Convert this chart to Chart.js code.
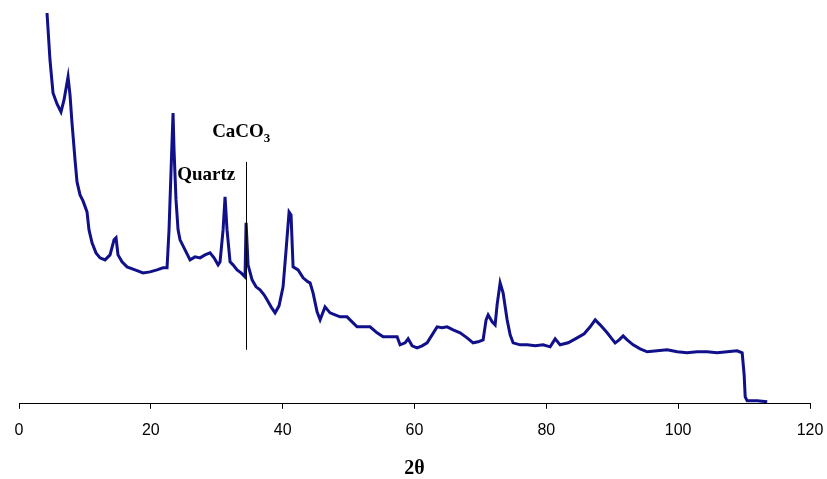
<!DOCTYPE html>
<html>
<head>
<meta charset="utf-8">
<script src="https://cdn.jsdelivr.net/npm/chart.js@4.4.0/dist/chart.umd.min.js"></script>
<style>
  html, body { margin: 0; padding: 0; background: #fff; }
  #wrap { width: 827px; height: 479px; position: relative; }
</style>
</head>
<body>
<div id="wrap"><canvas id="xrd"></canvas></div>
<script>
// 2θ positions (deg) and intensity (arbitrary units)
const dosTheta = [
  4.25, 4.70, 5.16, 5.77, 6.37, 6.83, 7.44, 7.74, 8.04, 8.50, 8.80, 9.26, 9.71, 10.32, 10.62,
  11.08, 11.68, 12.29, 13.05, 13.81, 14.42, 14.72, 15.02, 15.63, 16.39, 17.60, 18.82, 19.88,
  20.94, 21.85, 22.46, 22.76, 23.07, 23.37, 23.52, 23.82, 24.13, 24.43, 25.19, 25.95, 26.71,
  27.47, 28.22, 28.98, 29.59, 30.20, 30.50, 30.96, 31.26, 31.56, 32.02, 32.47, 33.08, 33.69,
  34.29, 34.45, 34.75, 35.36, 35.96, 36.57, 37.18, 37.63, 38.24, 38.85, 39.45, 40.06, 40.52,
  40.97, 41.27, 41.58, 42.34, 43.10, 43.85, 44.16, 44.61, 45.22, 45.68, 46.43, 47.19, 47.95,
  48.71, 49.77, 50.53, 51.29, 52.50, 53.26, 54.32, 55.24, 56.30, 57.36, 57.81, 58.57, 59.03,
  59.64, 60.39, 61.15, 61.91, 62.67, 63.43, 64.19, 64.95, 65.86, 66.92, 67.98, 68.89, 69.65,
  70.41, 70.86, 71.17, 71.78, 72.23, 72.53, 72.99, 73.44, 74.05, 74.51, 74.96, 76.02, 77.09,
  78.30, 79.51, 80.58, 81.34, 82.09, 83.31, 84.67, 85.74, 86.65, 87.41, 88.16, 89.23, 89.83,
  90.44, 91.05, 91.65, 92.26, 93.17, 94.23, 95.30, 96.81, 98.33, 99.85, 101.37, 102.88,
  104.40, 105.92, 107.44, 108.95, 109.71, 110.01, 110.17, 110.47, 111.99, 113.51
];
const intensidad = [
  391, 344, 311, 300, 292, 304, 327, 309, 281, 244, 222, 209, 203, 192, 174,
  161, 151, 146, 144, 149, 164, 166, 149, 142, 137, 134, 131, 132,
  134, 136, 136, 174, 234, 291, 254, 204, 174, 164, 154, 144, 147,
  146, 149, 151, 146, 139, 142, 174, 207, 174, 142, 139, 134, 131,
  127, 181, 139, 124, 117, 114, 109, 104, 97, 91, 98, 117, 154,
  192, 189, 137, 134, 126, 122, 121, 111, 92, 84, 97, 91, 89,
  87, 87, 82, 77, 77, 77, 71, 67, 67, 67, 59, 61, 65,
  58, 56, 58, 61, 69, 77, 76, 77, 74, 71, 66, 61, 62,
  64, 84, 89, 82, 79, 99, 121, 111, 84, 69, 61, 59, 59,
  58, 59, 57, 65, 59, 61, 66, 70, 77, 84, 79, 71, 66,
  61, 64, 68, 64, 59, 55, 52, 53, 54, 52, 51, 52,
  52, 51, 52, 53, 51, 29, 7, 3, 3, 2
];
const ticksX = [0, 20, 40, 60, 80, 100, 120];

// Anotaciones (en unidades de datos)
const lineaCaCO3 = { x: 34.45, y0: 54, y1: 242 };
const etiquetas = [
  { texto: "CaCO", sub: "3", x: 29.3, y: 267 },
  { texto: "Quartz", sub: "", x: 24.0, y: 224 }
];

const puntos = dosTheta.map((t, i) => ({ x: t, y: intensidad[i] }));

// Plugin para dibujar la línea vertical y las etiquetas
const anotaciones = {
  id: "anotaciones",
  afterDatasetsDraw(chart) {
    const { ctx, scales } = chart;
    const sx = scales.x, sy = scales.y;
    ctx.save();
    // línea CaCO3
    const px = Math.round(sx.getPixelForValue(lineaCaCO3.x)) + 0.5;
    ctx.strokeStyle = "#000";
    ctx.lineWidth = 1;
    ctx.beginPath();
    ctx.moveTo(px, sy.getPixelForValue(lineaCaCO3.y1));
    ctx.lineTo(px, sy.getPixelForValue(lineaCaCO3.y0));
    ctx.stroke();
    // textos
    ctx.fillStyle = "#000";
    ctx.textBaseline = "alphabetic";
    ctx.textAlign = "left";
    etiquetas.forEach(e => {
      const x = sx.getPixelForValue(e.x);
      const y = sy.getPixelForValue(e.y);
      ctx.font = "bold 19px 'Liberation Serif', serif";
      ctx.fillText(e.texto, x, y);
      if (e.sub) {
        const w = ctx.measureText(e.texto).width;
        ctx.font = "bold 13px 'Liberation Serif', serif";
        ctx.fillText(e.sub, x + w, y + 5);
      }
    });
    ctx.restore();
  }
};

new Chart(document.getElementById("xrd"), {
  type: "line",
  data: {
    datasets: [{
      data: puntos,
      borderColor: "#10108a",
      borderWidth: 3,
      pointRadius: 0,
      tension: 0,
      fill: false,
      clip: false
    }]
  },
  options: {
    responsive: true,
    maintainAspectRatio: false,
    animation: false,
    layout: { padding: { left: 19, right: 17, top: 0, bottom: -2 } },
    plugins: { legend: { display: false }, tooltip: { enabled: false } },
    scales: {
      x: {
        type: "linear",
        min: 0,
        max: 120,
        afterBuildTicks: axis => { axis.ticks = ticksX.map(v => ({ value: v })); },
        afterFit: axis => { axis.paddingLeft = 0; axis.paddingRight = 0; },
        grid: { drawOnChartArea: false, drawTicks: true, tickLength: 5, color: "#000", lineWidth: 1 },
        border: { display: true, color: "#000", width: 1 },
        ticks: {
          color: "#000",
          padding: 12,
          maxRotation: 0,
          font: { family: "'Liberation Sans', Arial, sans-serif", size: 16 }
        },
        title: {
          display: true,
          text: "2θ",
          color: "#000",
          padding: { top: 5, bottom: 0 },
          font: { family: "'Liberation Serif', serif", size: 20, weight: "bold" }
        }
      },
      y: {
        display: false,
        min: 0,
        max: 404
      }
    }
  },
  plugins: [anotaciones]
});
</script>
</body>
</html>
